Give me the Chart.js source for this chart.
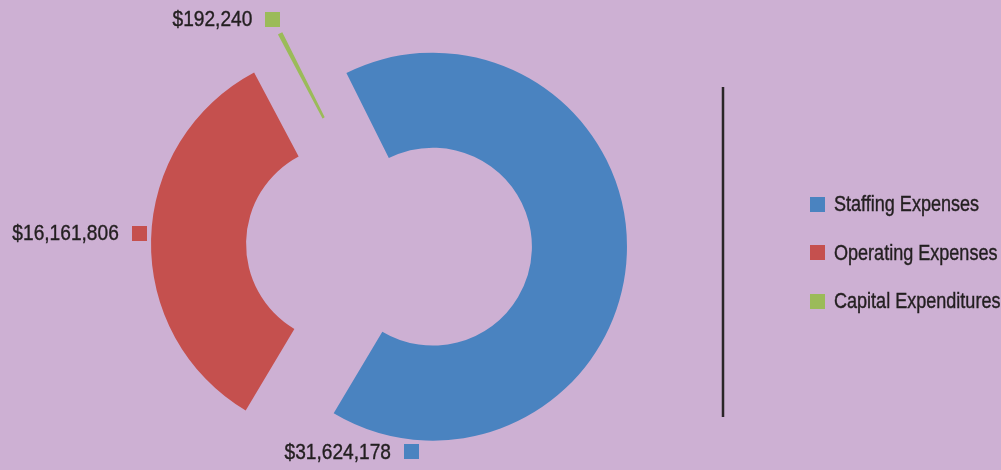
<!DOCTYPE html>
<html>
<head>
<meta charset="utf-8">
<script src="https://cdn.jsdelivr.net/npm/chart.js@4"></script>
<style>
    html, body {
        margin: 0;
        padding: 0;
        background: #cdb0d3;
    }
    #wrap {
        position: relative;
        width: 1001px;
        height: 470px;
    }
</style>
</head>
<body>
<div id="wrap"><canvas id="chart-budget"></canvas></div>
<script>
const categories = ["Staffing Expenses", "Operating Expenses", "Capital Expenditures"];
const amounts = [31624178, 16161806, 192240];
const colors = ["#4a83c0", "#c5504e", "#9bbb59"];

// label anchor angle (deg, clockwise from top) per slice, null = middle of slice
const labelAngles = [186, 273, null];

const FONT = "22px 'Liberation Sans', Arial, sans-serif";
const NARROW_LEGEND = 0.82; // tiru huruf "narrow" dengan skala horizontal
const NARROW_LABEL = 0.87;
const TEXT_COLOR = "#231f20";
const EXPLODE = 44; // jarak pecahan irisan
const BOX = 15;

function narrowText(ctx, text, x, y, align, sx) {
    ctx.save();
    ctx.translate(x, y);
    ctx.scale(sx, 1);
    ctx.textAlign = align;
    ctx.textBaseline = "middle";
    ctx.fillText(text, 0, 0);
    ctx.lineWidth = 0.4;
    ctx.strokeStyle = TEXT_COLOR;
    ctx.strokeText(text, 0, 0);
    ctx.restore();
}

// geser setiap irisan keluar dari pusat (tanpa memperbesar jari-jari)
const explodePlugin = {
    id: "explode",
    afterDatasetsUpdate(chart) {
        const meta = chart.getDatasetMeta(0);
        meta.data.forEach((arc) => {
            const mid = (arc.startAngle + arc.endAngle) / 2;
            arc.x += EXPLODE * Math.cos(mid);
            arc.y += EXPLODE * Math.sin(mid);
        });
    },
};

const labelPlugin = {
    id: "sliceLabels",
    afterDatasetsDraw(chart) {
        const ctx = chart.ctx;
        const meta = chart.getDatasetMeta(0);
        ctx.save();
        ctx.font = FONT;
        meta.data.forEach((arc, i) => {
            let a = (arc.startAngle + arc.endAngle) / 2;
            let gap = 12;
            if (labelAngles[i] !== null) {
                a = (labelAngles[i] - 90) * Math.PI / 180;
            }
            if (i === 2) gap = 16;
            const r = arc.outerRadius + gap;
            const px = arc.x + r * Math.cos(a);
            const py = arc.y + r * Math.sin(a);
            ctx.fillStyle = colors[i];
            ctx.fillRect(Math.round(px - BOX / 2), Math.round(py - BOX / 2), BOX, BOX);
            ctx.fillStyle = TEXT_COLOR;
            narrowText(ctx, "$" + amounts[i].toLocaleString("en-US"), px - BOX / 2 - 13, py + 1, "right", NARROW_LABEL);
        });
        ctx.restore();
    },
};

const legendPlugin = {
    id: "sideLegend",
    afterDraw(chart) {
        const ctx = chart.ctx;
        ctx.save();
        // garis pemisah vertikal
        ctx.strokeStyle = "#2a2527";
        ctx.lineWidth = 2.5;
        ctx.beginPath();
        ctx.moveTo(723, 87);
        ctx.lineTo(723, 417);
        ctx.stroke();

        ctx.font = FONT;
        categories.forEach((name, i) => {
            const y = 204 + i * 48.5;
            ctx.fillStyle = colors[i];
            ctx.fillRect(810, Math.round(y - BOX / 2), BOX, BOX);
            ctx.fillStyle = TEXT_COLOR;
            narrowText(ctx, name, 834, y + 1, "left", NARROW_LEGEND);
        });
        ctx.restore();
    },
};

const dataBudget = {
    labels: categories,
    datasets: [
        {
            data: amounts,
            backgroundColor: colors,
            borderWidth: 0,
        },
    ],
};

const configBudget = {
    type: "doughnut",
    data: dataBudget,
    options: {
        responsive: true,
        maintainAspectRatio: false,
        animation: false,
        events: [],
        rotation: -26.5,
        radius: 194,
        cutout: "51%",
        layout: {
            padding: { left: 0, right: 223, top: 20, bottom: 0 },
        },
        plugins: {
            legend: { display: false },
            tooltip: { enabled: false },
        },
    },
    plugins: [explodePlugin, labelPlugin, legendPlugin],
};

new Chart(document.getElementById("chart-budget"), configBudget);
</script>
</body>
</html>
